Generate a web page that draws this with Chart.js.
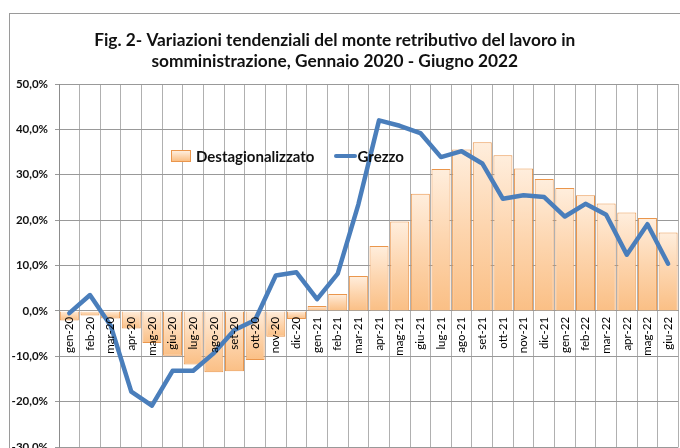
<!DOCTYPE html>
<html>
<head>
<meta charset="utf-8">
<script src="https://cdn.jsdelivr.net/npm/chart.js@4"></script>
<style>
  html, body { margin: 0; padding: 0; width: 680px; height: 448px; overflow: hidden; background: #fff; }
  #frame { position: absolute; left: 9px; top: 13px; width: 720px; height: 480px;
           border-top: 1px solid #9a9a9a; border-left: 1px solid #9a9a9a; }
  #chart { position: absolute; left: -12px; top: 0; }
  #legend { position: absolute; left: 171px; top: 147px; font: bold 15px Lato, sans-serif; color: #111;
            display: flex; align-items: center; white-space: nowrap; }
  .swatch-bar { width: 18px; height: 10px; border: 1px solid #ea964c;
                background: linear-gradient(#ffeedd, #fabf85); margin-right: 5px; }
  .swatch-line { width: 23px; height: 4px; border-radius: 2px; background: #4a7ebb; margin: 0 1px 0 19px; }
</style>
</head>
<body>
<div id="frame"></div>
<canvas id="chart" width="700" height="470"></canvas>
<div id="legend">
  <span class="swatch-bar"></span><span>Destagionalizzato</span>
  <span class="swatch-line"></span><span>Grezzo</span>
</div>
<script>
const months = ["gen-20", "feb-20", "mar-20", "apr-20", "mag-20", "giu-20", "lug-20", "ago-20", "set-20", "ott-20",
  "nov-20", "dic-20", "gen-21", "feb-21", "mar-21", "apr-21", "mag-21", "giu-21", "lug-21", "ago-21",
  "set-21", "ott-21", "nov-21", "dic-21", "gen-22", "feb-22", "mar-22", "apr-22", "mag-22", "giu-22"];

const destagionalizzato = [-2.1, -1.0, -1.7, -3.9, -7.1, -9.9, -11.8, -13.5, -13.3, -10.8,
  -5.7, -1.8, 1.1, 3.7, 7.7, 14.3, 19.7, 25.8, 31.3, 35.6,
  37.2, 34.3, 31.4, 29.1, 27.1, 25.5, 23.7, 21.7, 20.5, 17.3];

const grezzo = [-0.5, 3.5, -3.2, -17.8, -20.9, -13.2, -13.2, -9.3, -4.2, -2.0,
  7.8, 8.5, 2.6, 8.2, 23.5, 42.0, 40.8, 39.2, 33.9, 35.2,
  32.5, 24.7, 25.5, 25.1, 20.8, 23.6, 21.2, 12.4, 19.1, 10.4];

const yMin = -30;
const yMax = 50;
const yStep = 10;

const titleLines = ["Fig. 2- Variazioni tendenziali del monte retributivo del lavoro in",
  "somministrazione, Gennaio 2020 - Giugno 2022"];

function barFill(context) {
  const chart = context.chart;
  if (!chart.chartArea) return "#fdd3aa";
  const y = chart.scales.y;
  const v = context.raw;
  const top = y.getPixelForValue(Math.max(v, 0));
  const bottom = y.getPixelForValue(Math.min(v, 0));
  if (bottom - top < 1) return "#fdd3aa";
  const g = chart.ctx.createLinearGradient(0, top, 0, bottom);
  g.addColorStop(0, "#ffeedd");
  g.addColorStop(0.5, "#fdd5ae");
  g.addColorStop(1, "#fabf85");
  return g;
}

function formatPercent(value) {
  return value.toFixed(1).replace(".", ",") + "%";
}

new Chart(document.getElementById("chart"), {
  data: {
    labels: months,
    datasets: [
      {
        type: "line",
        label: "Grezzo",
        data: grezzo,
        borderColor: "#4a7ebb",
        borderWidth: 4.5,
        pointRadius: 0,
        tension: 0,
        borderJoinStyle: "round",
        borderCapStyle: "round",
        order: 0,
      },
      {
        type: "bar",
        label: "Destagionalizzato",
        data: destagionalizzato,
        backgroundColor: barFill,
        borderColor: "#ea964c",
        borderWidth: 1,
        barPercentage: 0.92,
        categoryPercentage: 1,
        order: 1,
      },
    ],
  },
  options: {
    responsive: false,
    animation: false,
    layout: { padding: { left: 0, right: 6.5, top: 0, bottom: 23 } },
    plugins: {
      legend: { display: false },
      tooltip: { enabled: false },
      title: {
        display: true,
        text: titleLines,
        color: "#111",
        font: { family: "Lato", size: 17.3, weight: "bold", lineHeight: 1.23 },
        padding: { top: 29.4, bottom: 12.1 },
      },
    },
    scales: {
      x: {
        type: "category",
        position: { y: 0 },
        offset: true,
        grid: { offset: true, color: "#b0b0b0", drawTicks: false },
        border: { color: "#999" },
        ticks: {
          autoSkip: false,
          minRotation: 90,
          maxRotation: 90,
          padding: 6,
          z: 1,
          color: "#000",
          font: { family: "Lato", size: 11.5 },
        },
      },
      y: {
        min: yMin,
        max: yMax,
        afterFit: (scale) => { scale.width = 71; },
        grid: { color: "#999", tickLength: 4 },
        border: { color: "#8c8c8c" },
        ticks: {
          stepSize: yStep,
          padding: 7,
          color: "#111",
          font: { family: "Lato", size: 11.5, weight: "bold" },
          callback: (value) => formatPercent(value),
        },
      },
    },
  },
});
</script>
</body>
</html>
